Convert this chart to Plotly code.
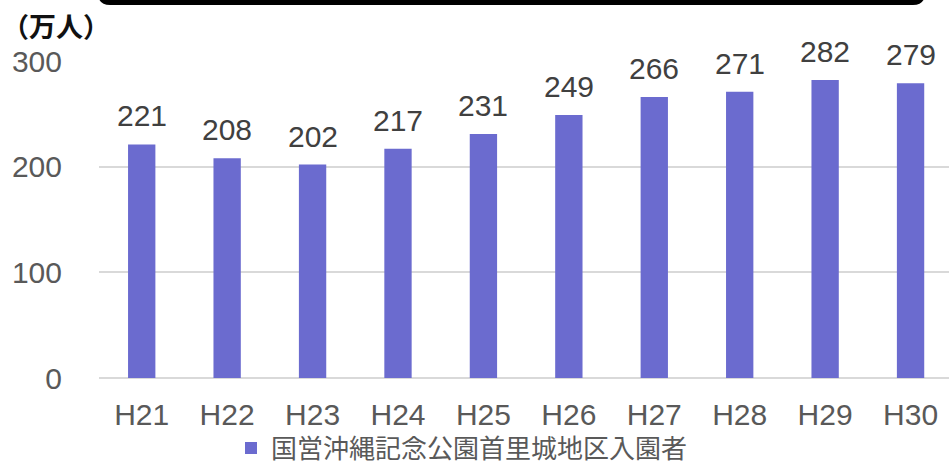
import plotly.graph_objects as go

categories = ["H21", "H22", "H23", "H24", "H25", "H26", "H27", "H28", "H29", "H30"]
visitors = [221, 208, 202, 217, 231, 249, 266, 271, 282, 279]
series_name = "国営沖縄記念公園首里城地区入園者"
y_ticks = [0, 100, 200, 300]
unit_label = "（万人）"

FONT = "Liberation Sans, Arial, Noto Sans CJK JP, sans-serif"
CJK = "Noto Sans CJK JP, Liberation Sans, sans-serif"
GRAY = "#595959"
BAR = "#6B6BCF"

W, H = 949, 462
L, R, T, B = 99, 0, 61, 84
pw, ph = W - L - R, H - T - B

def px_x(x):
    return (x - L) / pw

def px_y(y):
    return (H - B - y) / ph

fig = go.Figure()
fig.add_trace(go.Bar(
    x=categories, y=visitors, name=series_name,
    marker=dict(color=BAR, line=dict(width=0)),
    cliponaxis=False, showlegend=True, hoverinfo="x+y",
))

for c, v in zip(categories, visitors):
    fig.add_annotation(x=c, y=v, text=str(v), showarrow=False,
                       xanchor="center", yanchor="bottom", yshift=10,
                       font=dict(family=FONT, size=30, color="#404040"))

# black rounded band at top (cropped element)
x0, x1 = px_x(98), px_x(925)
yb, yt = px_y(5), px_y(-20)
rx, ry = 12 / pw, 12 / ph
path = (f"M {x0},{yt} L {x0},{yb+ry} Q {x0},{yb} {x0+rx},{yb} "
        f"L {x1-rx},{yb} Q {x1},{yb} {x1},{yb+ry} L {x1},{yt} Z")
fig.add_shape(type="path", path=path, xref="paper", yref="paper",
              fillcolor="black", line=dict(width=0), layer="above")

fig.add_annotation(text=unit_label, xref="paper", yref="paper",
                   x=px_x(0), y=px_y(25), xanchor="left", yanchor="middle",
                   showarrow=False,
                   font=dict(family=CJK, size=27, color="#111111", weight="bold"))

fig.update_layout(
    width=W, height=H,
    margin=dict(l=L, r=R, t=T, b=B, pad=0, autoexpand=False),
    paper_bgcolor="white", plot_bgcolor="white",
    bargap=0.68,
    font=dict(family=FONT, color=GRAY),
    legend=dict(orientation="h", x=px_x(231), y=px_y(448), xanchor="left",
                yanchor="middle", font=dict(family=CJK, size=26, color=GRAY),
                itemsizing="constant", bgcolor="rgba(0,0,0,0)"),
    xaxis=dict(range=[-0.5, 9.45], tickfont=dict(family=FONT, size=30, color=GRAY),
               showgrid=False, zeroline=False, showline=False, ticks="",
               ticklabelstandoff=16, fixedrange=True),
    yaxis=dict(range=[0, 300], tickvals=y_ticks,
               tickfont=dict(family=FONT, size=30, color=GRAY),
               showgrid=True, gridcolor="#D9D9D9", gridwidth=1.5,
               zeroline=True, zerolinecolor="#D9D9D9", zerolinewidth=1.5,
               showline=False, ticks="", ticklabelstandoff=36, fixedrange=True),
)

fig.write_html("out.html", config={"displayModeBar": False},
               post_script="document.body.style.margin='0';document.body.style.overflow='hidden';")
